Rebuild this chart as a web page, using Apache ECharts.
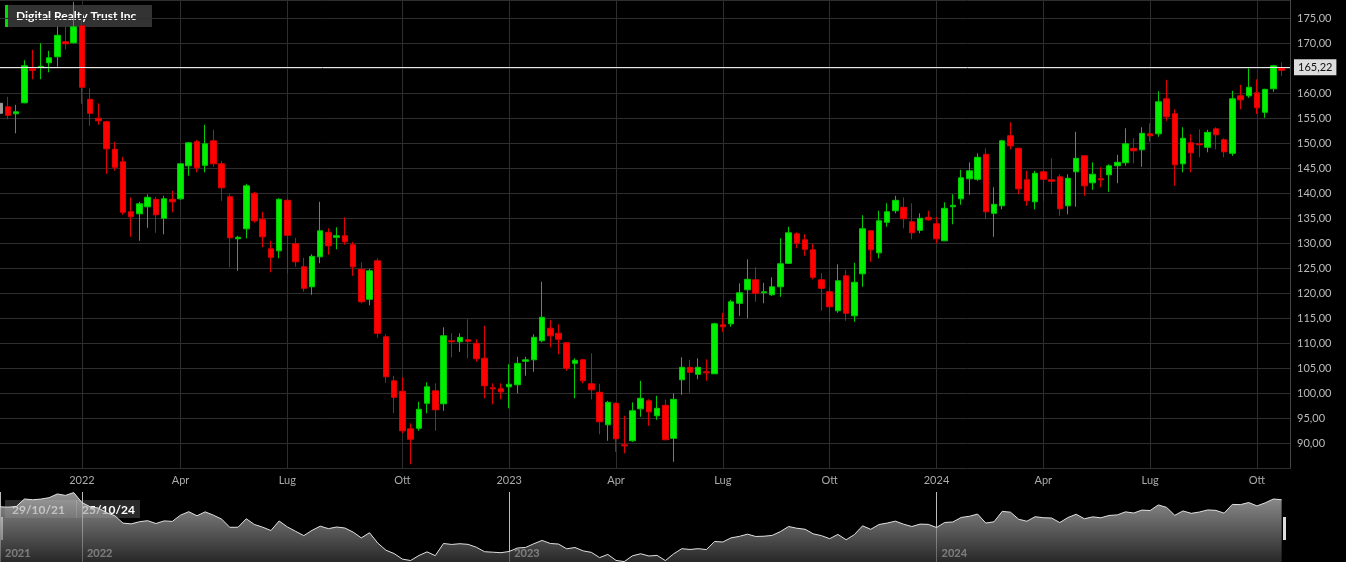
<!DOCTYPE html>
<html>
<head>
<meta charset="utf-8">
<script src="https://cdn.jsdelivr.net/npm/echarts@6/dist/echarts.min.js"></script>
<style>
  html, body { margin: 0; padding: 0; background: #000; }
  #chart { width: 1346px; height: 562px; }
</style>
</head>
<body>
<div id="chart"></div>
<script>
// weekly candles, 29/10/21 .. 25/10/24 (index 0 = first week, partly cut at left edge)
const opens = [158.0, 157.3, 155.9, 158.1, 164.9, 165.2, 166.1, 167.3, 170.3, 170.1,
  173.5, 158.8, 155.0, 154.3, 148.8, 146.3, 136.3, 135.9, 137.3, 138.8,
  135.0, 138.8, 138.9, 145.5, 150.3, 145.6, 150.5, 145.9, 139.3, 130.9,
  132.9, 140.0, 134.8, 128.9, 128.5, 138.6, 129.9, 125.3, 121.3, 127.3,
  132.2, 131.2, 131.5, 129.7, 124.8, 118.8, 126.5, 111.3, 102.5, 100.4,
  92.9, 93.0, 98.0, 100.5, 97.9, 110.5, 110.3, 110.7, 110.0, 107.0,
  101.1, 100.9, 101.3, 101.7, 106.4, 106.7, 110.5, 113.0, 112.0, 110.1,
  106.0, 106.7, 101.9, 100.2, 93.7, 98.0, 89.7, 90.5, 96.9, 98.5,
  95.5, 97.6, 91.0, 102.7, 105.2, 103.8, 104.3, 103.9, 113.7, 113.9,
  118.0, 120.7, 122.7, 120.1, 119.7, 121.3, 126.0, 131.9, 130.7, 128.7,
  122.7, 120.3, 116.5, 123.5, 115.5, 123.9, 132.5, 128.1, 134.2, 136.5,
  137.2, 134.3, 132.6, 135.2, 133.9, 130.5, 137.3, 138.9, 142.9, 142.8,
  147.8, 136.0, 137.5, 151.5, 149.0, 142.7, 138.3, 144.3, 142.7, 143.3,
  137.5, 144.3, 147.5, 142.1, 142.9, 143.7, 145.5, 146.1, 149.0, 148.7,
  151.9, 151.9, 158.9, 155.9, 145.9, 150.1, 149.9, 149.2, 152.9, 150.7,
  148.0, 159.5, 159.5, 160.1, 156.2, 160.9, 165.1];
const closes = [156.0, 155.6, 156.3, 165.5, 164.6, 165.4, 167.1, 171.6, 169.9, 173.3,
  161.2, 156.0, 154.5, 148.9, 145.2, 136.2, 135.3, 137.9, 139.2, 135.7,
  138.9, 138.3, 145.9, 150.1, 145.1, 149.9, 145.9, 141.1, 131.1, 131.2,
  141.5, 134.5, 131.3, 127.2, 138.8, 131.6, 126.3, 121.0, 127.4, 132.5,
  129.5, 131.5, 130.3, 125.3, 118.3, 124.5, 112.0, 103.3, 99.2, 92.5,
  90.8, 96.8, 101.3, 96.7, 111.5, 110.3, 111.2, 110.4, 106.9, 101.5,
  100.9, 100.3, 101.8, 106.0, 106.7, 111.2, 115.2, 111.5, 110.8, 105.0,
  106.6, 102.5, 100.7, 94.3, 98.2, 90.9, 89.5, 96.5, 99.0, 96.3,
  97.0, 90.7, 98.8, 105.2, 104.2, 105.2, 104.1, 113.9, 113.3, 118.3,
  120.1, 122.8, 120.0, 120.3, 121.3, 125.9, 132.1, 130.0, 128.8, 123.2,
  121.0, 117.3, 122.5, 116.0, 122.2, 132.9, 128.7, 134.5, 136.3, 138.6,
  134.9, 132.1, 135.0, 134.7, 130.9, 137.0, 137.6, 143.1, 144.5, 147.2,
  136.3, 137.8, 150.5, 149.5, 140.9, 138.5, 144.0, 142.8, 142.4, 136.9,
  143.0, 147.0, 141.5, 143.8, 142.7, 145.5, 146.2, 149.9, 148.5, 152.0,
  151.5, 158.3, 155.3, 145.7, 151.0, 148.1, 149.7, 152.2, 151.7, 148.3,
  158.9, 158.7, 161.2, 157.1, 160.8, 165.5, 164.6];
const lows = [155.2, 154.8, 152.0, 158.0, 162.8, 162.8, 164.2, 165.3, 168.8, 170.0,
  157.9, 153.5, 153.7, 143.9, 144.5, 135.7, 131.3, 130.5, 133.1, 132.1,
  131.8, 136.2, 138.7, 143.5, 144.2, 144.2, 145.3, 138.5, 125.2, 124.5,
  131.0, 134.1, 129.2, 124.2, 127.0, 124.0, 125.3, 120.3, 119.7, 126.0,
  127.7, 128.8, 129.7, 123.5, 118.0, 117.6, 111.1, 102.1, 96.0, 92.0,
  85.8, 92.5, 96.0, 92.5, 96.5, 107.2, 108.3, 107.0, 106.3, 99.0,
  97.8, 98.8, 97.0, 100.0, 103.5, 104.3, 110.2, 109.2, 107.8, 104.5,
  99.0, 102.0, 98.8, 91.8, 90.5, 88.3, 88.0, 90.3, 95.3, 93.5,
  94.7, 90.7, 86.3, 99.7, 100.1, 102.8, 102.5, 103.9, 112.3, 113.3,
  115.5, 115.0, 118.3, 118.0, 119.5, 119.3, 125.9, 129.0, 127.5, 122.8,
  116.5, 114.3, 116.1, 114.5, 114.3, 121.3, 126.3, 127.0, 133.3, 136.0,
  133.0, 130.8, 132.0, 134.5, 130.0, 130.5, 133.8, 137.7, 139.7, 142.5,
  134.8, 131.3, 136.8, 148.8, 139.8, 137.5, 136.8, 138.5, 139.8, 135.5,
  135.8, 137.3, 139.5, 140.7, 141.2, 140.3, 142.0, 145.5, 146.0, 145.3,
  150.3, 151.3, 154.5, 141.5, 144.2, 144.2, 147.2, 148.2, 148.8, 147.2,
  147.5, 156.8, 159.1, 155.9, 155.1, 160.3, 163.5];
const highs = [161.2, 159.3, 157.7, 166.6, 168.7, 170.0, 168.5, 173.3, 173.3, 178.3,
  175.0, 161.0, 158.0, 154.5, 150.3, 147.3, 139.2, 138.3, 139.8, 139.3,
  139.5, 140.5, 146.0, 150.2, 150.7, 153.7, 152.7, 146.5, 139.8, 131.5,
  141.9, 140.3, 136.3, 130.5, 139.0, 139.0, 131.1, 127.1, 127.8, 138.3,
  133.0, 133.2, 135.2, 130.3, 126.2, 124.9, 127.0, 111.8, 103.5, 103.2,
  94.0, 98.3, 102.2, 102.0, 113.2, 112.0, 112.0, 114.8, 110.8, 113.5,
  102.0, 102.0, 105.8, 107.3, 107.3, 111.8, 122.3, 114.7, 113.8, 110.2,
  107.0, 106.9, 108.0, 101.9, 98.5, 98.2, 95.5, 98.2, 102.5, 98.8,
  99.5, 98.7, 100.0, 107.2, 106.7, 107.0, 106.8, 114.1, 116.1, 118.7,
  122.0, 126.8, 125.2, 122.1, 123.2, 131.0, 133.3, 132.2, 131.8, 129.9,
  124.0, 121.3, 125.8, 124.7, 126.1, 135.6, 132.6, 136.5, 138.0, 139.5,
  139.2, 138.0, 136.0, 136.5, 135.3, 138.2, 139.8, 144.7, 146.2, 148.0,
  149.0, 141.2, 150.7, 154.2, 149.1, 144.5, 144.5, 144.7, 147.0, 143.8,
  143.8, 152.3, 147.6, 146.2, 145.2, 145.8, 147.7, 153.0, 151.0, 153.2,
  154.0, 160.4, 162.7, 156.8, 153.2, 151.8, 152.8, 152.7, 153.2, 151.0,
  160.5, 161.7, 165.0, 162.8, 160.9, 165.7, 166.2];

const lastPrice = 165.22;

// first candle of each month shown on the time axis
const monthTickIdx = [10, 22, 35, 49, 62, 75, 88, 101, 114, 127, 140, 153];
const monthTickLabels = ['2022', 'Apr', 'Lug', 'Ott', '2023', 'Apr', 'Lug', 'Ott', '2024', 'Apr', 'Lug', 'Ott'];
const yearTickIdx = [0.03, 10, 62, 114];
const yearTickLabels = ['2021', '2022', '2023', '2024'];

const xMin = 0.03, xMax = 157.02;

const candles = opens.map((o, i) => {
  const v = [i, o, closes[i], lows[i], highs[i]];
  if (i === 0) {
    return { value: v, itemStyle: { color: '#999', color0: '#999', borderColor: '#999', borderColor0: '#999' } };
  }
  return v;
});
const navLine = closes.map((c, i) => [i, c]);

function fmtPrice(v) {
  return v.toFixed(2).replace('.', ',');
}

const chart = echarts.init(document.getElementById('chart'));
chart.setOption({
  backgroundColor: '#000',
  animation: false,
  textStyle: { fontFamily: 'Lato' },
  grid: [
    { left: 0, right: 56, top: 0, bottom: 562 - 468.3 },
    { left: 0, right: 56, top: 492, bottom: 0 }
  ],
  xAxis: [{
    type: 'value',
    gridIndex: 0,
    min: xMin,
    max: xMax,
    axisLine: { show: false },
    axisTick: { show: false, customValues: monthTickIdx },
    splitLine: { show: true, lineStyle: { color: '#2e2e2e', width: 1 } },
    axisLabel: {
      customValues: monthTickIdx,
      color: '#aaa',
      fontSize: 11,
      margin: 7,
      formatter: function(v) {
        const k = monthTickIdx.indexOf(v)
        return k >= 0 ? monthTickLabels[k] : ''
      }
    }
  }, {
    type: 'value',
    gridIndex: 1,
    min: xMin,
    max: xMax,
    axisLine: { show: false },
    axisTick: { show: false, customValues: yearTickIdx },
    splitLine: { show: true, lineStyle: { color: '#bbb', width: 1 } },
    axisLabel: {
      customValues: yearTickIdx,
      inside: true,
      align: 'left',
      padding: [0, 0, 0, 5],
      margin: 3,
      color: '#eee',
      fontWeight: 'bold',
      fontSize: 11,
      formatter: function(v) {
        const k = yearTickIdx.indexOf(v)
        return k >= 0 ? yearTickLabels[k] : ''
      }
    }
  }],
  yAxis: [{
    type: 'value',
    gridIndex: 0,
    position: 'right',
    min: 85,
    max: 178.66,
    interval: 5,
    axisLine: { show: true, lineStyle: { color: '#444' } },
    axisTick: { show: false },
    splitLine: { show: true, lineStyle: { color: '#2e2e2e', width: 1 } },
    axisLabel: {
      color: '#bbb',
      fontSize: 11,
      margin: 7,
      showMinLabel: false,
      showMaxLabel: false,
      formatter: fmtPrice
    }
  }, {
    type: 'value',
    gridIndex: 1,
    min: 89,
    max: 174,
    show: false
  }],
  series: [{
    type: 'candlestick',
    xAxisIndex: 0,
    yAxisIndex: 0,
    data: candles,
    barWidth: 6,
    itemStyle: {
      color: '#00ee00',
      color0: '#ff0000',
      borderColor: '#00cc00',
      borderColor0: '#e00000',
      borderWidth: 1
    },
    markLine: {
      silent: true,
      symbol: 'none',
      lineStyle: { color: '#e8e8e8', type: 'solid', width: 1 },
      label: {
        position: 'end',
        distance: 4,
        formatter: fmtPrice(lastPrice),
        color: '#111',
        backgroundColor: '#ddd',
        padding: [3, 4, 2, 4],
        fontSize: 11,
        fontFamily: 'Lato'
      },
      data: [{ yAxis: lastPrice }]
    }
  }, {
    type: 'line',
    xAxisIndex: 1,
    yAxisIndex: 1,
    data: navLine,
    symbol: 'none',
    lineStyle: { color: '#e0e0e0', width: 1 },
    areaStyle: {
      color: new echarts.graphic.LinearGradient(0, 0, 0, 1, [
        { offset: 0, color: '#d0d0d0' },
        { offset: 1, color: '#3a3a3a' }
      ])
    }
  }],
  graphic: [
    { type: 'rect', left: 5, top: 5, shape: { width: 147, height: 22 }, style: { fill: '#333' } },
    { type: 'rect', left: 5, top: 5, shape: { width: 3, height: 22 }, style: { fill: '#00e000' } },
    { type: 'text', left: 16, top: 10, style: { text: 'Digital Realty Trust Inc', fill: '#fff', font: 'bold 12px Lato' } },
    { type: 'rect', left: 5, top: 500, shape: { width: 135, height: 18 }, style: { fill: '#2a2a2a' } },
    { type: 'rect', left: 76, top: 500, shape: { width: 1, height: 18 }, style: { fill: '#666' } },
    { type: 'text', left: 12, top: 504, style: { text: '29/10/21', fill: '#fff', font: 'bold 12px Lato' } },
    { type: 'text', left: 82, top: 504, style: { text: '25/10/24', fill: '#fff', font: 'bold 12px Lato' } },
    { type: 'rect', left: 0, top: 517, shape: { width: 3, height: 23 }, style: { fill: '#ddd' } },
    { type: 'rect', left: 1283, top: 517, shape: { width: 3, height: 23 }, style: { fill: '#ddd' } }
  ]
});
</script>
</body>
</html>
